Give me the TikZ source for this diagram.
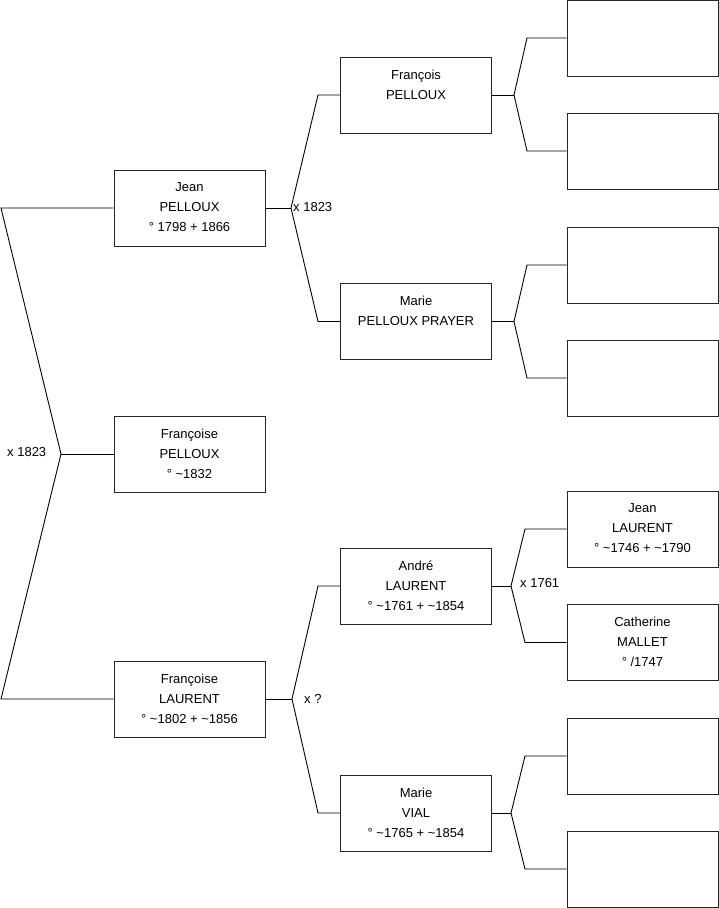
\documentclass[tikz,border=0pt]{standalone}
\usepackage{fontspec}
\setmainfont{Liberation Sans}
\begin{document}
\begin{tikzpicture}[x=1pt,y=-1pt,
  person/.style={draw=black!85, line width=1pt, minimum width=151pt, minimum height=76pt, inner sep=0pt},
  txt/.style={font=\fontsize{13}{20}\selectfont, align=center, inner sep=0pt, anchor=north},
  link/.style={draw=black, line width=0.9pt},
  mar/.style={font=\fontsize{13}{16}\selectfont, inner sep=0pt, anchor=west}]
\useasboundingbox (0,0) rectangle (719,908);
% boxes
\node[person] (A) at (189.5,208) {};
\node[person] (B) at (189.5,454) {};
\node[person] (C) at (189.5,699) {};
\node[person] (D) at (416,95) {};
\node[person] (E) at (416,321.5) {};
\node[person] (F) at (416,586) {};
\node[person] (G) at (416,813) {};
\node[person] (H1) at (642.5,38) {};
\node[person] (H2) at (642.5,151) {};
\node[person] (H3) at (642.5,265) {};
\node[person] (H4) at (642.5,378) {};
\node[person] (H5) at (642.5,529) {};
\node[person] (H6) at (642.5,642.5) {};
\node[person] (H7) at (642.5,756) {};
\node[person] (H8) at (642.5,869) {};
% texts
\node[txt] (tA) at ([yshift=-13pt]A.north) {Jean\\PELLOUX\\° 1798 + 1866};
\node[txt] (tB) at ([yshift=-13pt]B.north) {Françoise\\PELLOUX\\° \textasciitilde1832};
\node[txt] (tC) at ([yshift=-13pt]C.north) {Françoise\\LAURENT\\° \textasciitilde1802 + \textasciitilde1856};
\node[txt] (tD) at ([yshift=-13pt]D.north) {François\\PELLOUX};
\node[txt] (tE) at ([yshift=-13pt]E.north) {Marie\\PELLOUX PRAYER};
\node[txt] (tF) at ([yshift=-13pt]F.north) {André\\LAURENT\\° \textasciitilde1761 + \textasciitilde1854};
\node[txt] (tG) at ([yshift=-13pt]G.north) {Marie\\VIAL\\° \textasciitilde1765 + \textasciitilde1854};
\node[txt] (tH5) at ([yshift=-13pt]H5.north) {Jean\\LAURENT\\° \textasciitilde1746 + \textasciitilde1790};
\node[txt] (tH6) at ([yshift=-13pt]H6.north) {Catherine\\MALLET\\° /1747};
% connector coordinates
\coordinate (r1) at (1,208);
\coordinate (rv) at (61,454);
\coordinate (r2) at (1,699);
\coordinate (av) at (291,208);
\coordinate (a1) at (318,95);
\coordinate (a2) at (318,321.5);
\coordinate (cv) at (292,699);
\coordinate (c1) at (318,586);
\coordinate (c2) at (318,813);
\coordinate (dv) at (514,95);
\coordinate (d1) at (527,38);
\coordinate (d2) at (527,151);
\coordinate (ev) at (514,321.5);
\coordinate (e1) at (527,265);
\coordinate (e2) at (527,378);
\coordinate (fv) at (511,586);
\coordinate (f1) at (525,529);
\coordinate (f2) at (525,642.5);
\coordinate (gv) at (511,813);
\coordinate (g1) at (525,756);
\coordinate (g2) at (525,869);
% connectors
\draw[link] (A.west) -- (r1) -- (rv) -- (r2) -- (C.west);
\draw[link] (rv) -- (B.west);
\draw[link] (A.east) -- (av);
\draw[link] (D.west) -- (a1) -- (av) -- (a2) -- (E.west);
\draw[link] (C.east) -- (cv);
\draw[link] (F.west) -- (c1) -- (cv) -- (c2) -- (G.west);
\draw[link] (D.east) -- (dv);
\draw[link] (H1.west) -- (d1) -- (dv) -- (d2) -- (H2.west);
\draw[link] (E.east) -- (ev);
\draw[link] (H3.west) -- (e1) -- (ev) -- (e2) -- (H4.west);
\draw[link] (F.east) -- (fv);
\draw[link] (H5.west) -- (f1) -- (fv) -- (f2) -- (H6.west);
\draw[link] (G.east) -- (gv);
\draw[link] (H7.west) -- (g1) -- (gv) -- (g2) -- (H8.west);
% marriage labels
\node[mar] (m1) at (7,452) {x 1823};
\node[mar] (m2) at (293,207.5) {x 1823};
\node[mar] (m3) at (304,699) {x ?};
\node[mar] (m4) at (520,583) {x 1761};
\end{tikzpicture}
\end{document}
